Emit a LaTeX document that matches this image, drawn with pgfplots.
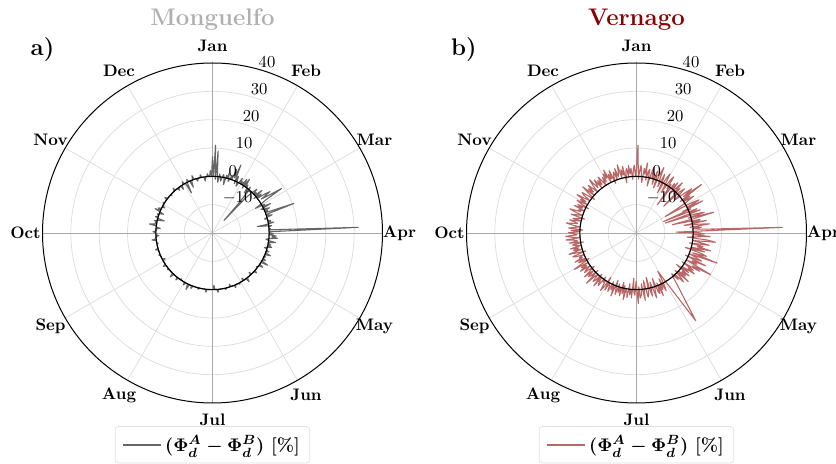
\documentclass[border=0pt]{standalone}
\usepackage{pgfplots}
\usepackage{pgfplotstable}
\pgfplotsset{compat=1.18}
\definecolor{mgray}{HTML}{666666}
\definecolor{vred}{HTML}{B96666}
\definecolor{titlegray}{HTML}{B0B0B0}
\definecolor{titlered}{HTML}{8B0000}
\definecolor{gridc}{HTML}{DDDDDD}
\definecolor{axc}{HTML}{A8A8A8}

% Monguelfo: day-of-year, difference [%]
\pgfplotstableread[row sep=\\]{
d v\\
1 7\\2 0\\3 11\\4 -1\\5 9\\6 0\\7 -2\\8 1\\9 0\\10 -1.5\\
11 0\\12 1\\13 0\\14 -2.5\\15 1\\16 0\\17 2\\18 -1\\19 0\\20 1.5\\
21 0\\22 4\\23 1\\24 6\\25 -1\\26 2\\27 0\\28 -1.5\\29 0\\30 2\\
31 0\\32 1\\33 0\\34 2.5\\35 -1\\36 3\\37 0\\38 1\\39 0\\40 -2\\
41 1\\42 0\\43 -6\\44 -14\\45 -3\\46 0\\47 2\\48 0\\49 1\\50 0\\
51 3\\52 -1\\53 2\\54 0\\55 3\\56 5\\57 1\\58 4\\59 9\\60 2\\
61 0\\62 -2.5\\63 1\\64 0\\65 3\\66 -1\\67 0\\68 2\\69 0\\70 1\\
71 0\\72 10.5\\73 0\\74 0\\75 2\\76 0\\77 -1\\78 0\\79 0\\80 1\\
81 0\\82 2\\83 0\\84 -4\\85 1\\86 0\\87 0\\88 0.5\\89 0\\90 31.5\\
91 0\\92 0\\93 1.5\\94 0\\95 2.5\\96 1\\97 3\\98 0\\99 -1\\100 0\\
101 2.5\\102 0\\103 0\\104 1\\105 0\\106 1.5\\107 0\\108 -1\\109 0\\110 0\\
111 1\\112 0\\113 0\\114 2\\115 0\\116 0\\117 0.5\\118 0\\119 0\\120 1\\
121 0\\122 0\\123 2.5\\124 0\\126 0\\127 1.5\\128 0\\129 0\\130 -0.5\\131 0\\
134 0\\135 1\\136 0\\139 0\\140 -1\\141 0\\145 0\\146 1.5\\147 0\\149 0\\150 -1\\151 0\\
154 0\\155 0.5\\156 0\\159 0\\160 1\\161 0\\164 0\\165 -1\\166 0\\169 0\\170 0.5\\171 0\\
175 0\\177 0\\178 1\\179 0\\181 0\\182 -1.5\\183 0\\186 0\\189 0\\190 1\\191 0\\194 0\\
197 0\\198 0.5\\199 0\\202 0\\204 0\\205 1\\206 0\\208 0\\209 2\\210 0\\212 0\\213 1\\214 0\\
217 0\\218 -0.5\\219 0\\221 0\\222 1\\223 0\\227 0\\228 1.5\\229 0\\232 0\\234 0\\235 0.5\\236 0\\
239 0\\240 1\\241 0\\245 0\\246 -1\\247 0\\251 0\\252 0.5\\253 0\\257 0\\258 1\\259 0\\
263 0\\264 -0.5\\265 0\\267 0\\268 1.5\\269 0\\271 0\\272 -1\\273 0\\275 0\\276 1\\277 0\\
279 0\\280 -1.5\\281 0\\282 0\\283 2.5\\284 0\\285 0.5\\286 0\\287 1\\288 0\\289 -2.5\\290 0\\
291 1\\292 0\\293 0\\294 0.6\\295 0\\296 -1.5\\297 0\\298 2\\299 0\\300 1\\301 0\\302 0\\
303 -1\\304 0\\306 0\\307 0.5\\308 0\\311 0\\312 1\\313 0\\317 0\\318 -0.5\\319 0\\
323 0\\324 1\\325 0\\327 0\\328 -1\\329 0\\331 0\\332 -1.5\\333 0\\334 0\\335 1\\336 0\\
337 0\\338 -4\\339 0\\340 1\\341 0\\342 0\\343 -2.5\\344 0\\345 0\\346 1.5\\347 0\\
349 0\\350 -1\\351 0\\353 0\\354 1\\355 0\\357 0\\358 -1.5\\359 0\\360 0\\361 1\\362 0\\
363 0\\364 2\\365 0\\366 7\\
}\tabA

% Vernago: day-of-year, difference [%]
\pgfplotstableread[row sep=\\]{
d v\\
1 3\\2 11\\3 -1\\4 2\\5 4\\6 0\\7 -2\\8 3\\9 1\\10 5\\
11 -1\\12 2\\13 3\\14 -3\\15 1\\16 4\\17 0\\18 2\\19 -2\\20 3\\
21 1\\22 -3\\23 2\\24 5\\25 0\\26 -2\\27 3\\28 1\\29 -4\\30 2\\
31 4\\32 0\\33 -3\\34 2\\35 3.8\\36 -1\\37 1\\38 -7.5\\39 2\\40 0\\
41 3\\42 -2\\43 1\\44 4\\45 -1\\46 2\\47 -6.5\\48 1\\49 3\\50 0\\
51 -2\\52 2\\53 5\\54 1\\55 8.6\\56 -1\\57 3\\58 0\\59 4\\60 1\\
61 -3\\62 -8.3\\63 2\\64 5\\65 0\\66 6\\67 -2\\68 1\\69 -9.6\\70 3\\
71 0\\72 4\\73 -9.2\\74 2\\75 5\\76 -1\\77 8.2\\78 1\\79 -7\\80 3\\
81 0\\82 5\\83 -3\\84 2\\85 6\\86 -1\\87 3\\88 0\\89 4\\90 31.5\\
91 -6\\92 2\\93 4\\94 0\\95 6\\96 1\\97 -2\\98 5\\99 8.1\\100 0\\
101 3\\102 6\\103 -1\\104 4\\105 2\\106 7\\107 0\\108 5\\109 -2\\110 4\\
111 6\\112 1\\113 10.4\\114 0\\115 3\\116 5\\117 -1\\118 7\\119 2\\120 4\\
121 0\\122 10\\123 3\\124 6\\125 -1\\126 4\\127 2\\128 5\\129 0\\130 3\\
131 -2\\132 4\\133 1\\134 3\\135 0\\136 5\\137 -1\\138 2\\139 4\\140 0\\
141 2\\142 -1\\143 0\\149 17.4\\154 -4.5\\155 1\\156 3\\157 -2\\158 2\\159 0\\160 4\\
161 -1\\162 3\\163 2\\164 -3\\165 1\\166 4\\167 0\\168 -2\\169 3\\170 1\\
171 -4\\172 2\\173 3\\174 0\\175 -3\\176 4\\177 1\\178 -2\\179 2\\180 3\\
181 -1\\182 4.9\\183 0\\184 -3\\185 2\\186 1\\187 -4\\188 3\\189 0\\190 2\\
191 -2\\192 3\\193 1\\194 0\\195 4\\196 -1\\197 2\\198 -2\\199 3\\200 0\\
201 2\\202 -1\\203 3\\204 1\\205 -2\\206 4\\207 0\\208 2\\209 -1\\210 3\\
211 1\\212 0\\213 3\\214 -2\\215 2\\216 4\\217 0\\218 1\\219 -1\\220 3\\
221 2\\222 0\\223 4\\224 -1\\225 2\\226 3\\227 0\\228 1\\229 5\\230 -1\\
231 2\\232 3\\233 0\\234 4\\235 1\\236 -1\\237 3\\238 2\\239 0\\240 4\\
241 1\\242 3\\243 0\\244 5.4\\245 2\\246 -1\\247 3\\248 0\\249 4\\250 1\\
251 2\\252 0\\253 3\\254 4\\255 -1\\256 2\\257 5\\258 0\\259 3\\260 1\\
261 4\\262 0\\263 2\\264 3\\265 -1\\266 4\\267 1\\268 2\\269 5\\270 0\\
271 3\\272 5\\273 1\\274 2\\275 4\\276 0\\277 3\\278 -1\\279 4\\280 2\\
281 0\\282 3\\283 5\\284 1\\285 2\\286 4\\287 0\\288 3\\289 1\\290 -1\\
291 4\\292 2\\293 0\\294 3\\295 5\\296 1\\297 2\\298 0\\299 4\\300 1\\
301 3\\302 -1\\303 2\\304 4\\305 0\\306 3\\307 1\\308 5\\309 2\\310 0\\
311 3\\312 4\\313 1\\314 -1\\315 2\\316 5\\317 0\\318 3\\319 1\\320 4\\
321 2\\322 0\\323 3\\324 5\\325 1\\326 2\\327 4\\328 0\\329 3\\330 1\\
331 4\\332 2\\333 0\\334 3\\335 1\\336 4\\337 2\\338 5\\339 0\\340 3\\
341 1\\342 4\\343 -1\\344 2\\345 3\\346 0\\347 4\\348 1\\349 2\\350 5\\
351 0\\352 3\\353 1\\354 4\\355 -2\\356 2\\357 3\\358 0\\359 4\\360 1\\
361 3\\362 -1\\363 2\\364 4\\365 0\\366 3\\
}\tabB

\newcommand{\polargrid}{%
  \pgfplotsinvokeforeach{10,20,30,40,50}{\draw[gridc, line width=0.45pt] (axis cs:0,0) circle[radius=##1];}%
  \pgfplotsinvokeforeach{30,60,120,150,210,240,300,330}{\draw[gridc, line width=0.45pt] (axis cs:0,0) -- (axis cs:{60*cos(##1)},{60*sin(##1)});}%
  \draw[axc, line width=0.45pt] (axis cs:-60,0) -- (axis cs:60,0);
  \draw[axc, line width=0.45pt] (axis cs:0,-60) -- (axis cs:0,60);
}
\newcommand{\polarlabels}{%
  \draw[black, line width=0.7pt] (axis cs:0,0) circle[radius=20];
  \draw[black, line width=0.6pt] (axis cs:0,0) circle[radius=60];
  \node[font=\bfseries] at (axis cs:0,66) {Jan};
  \node[font=\bfseries] at (axis cs:33,57.16) {Feb};
  \node[font=\bfseries] at (axis cs:57.16,33) {Mar};
  \node[font=\bfseries] at (axis cs:66,0) {Apr};
  \node[font=\bfseries] at (axis cs:57.16,-33) {May};
  \node[font=\bfseries] at (axis cs:33,-57.16) {Jun};
  \node[font=\bfseries] at (axis cs:0,-66) {Jul};
  \node[font=\bfseries] at (axis cs:-33,-57.16) {Aug};
  \node[font=\bfseries] at (axis cs:-57.16,-33) {Sep};
  \node[font=\bfseries] at (axis cs:-66,0) {Oct};
  \node[font=\bfseries] at (axis cs:-57.16,33) {Nov};
  \node[font=\bfseries] at (axis cs:-33,57.16) {Dec};
  \node[anchor=west, inner sep=0pt] at (axis cs:16.2,60.4) {$40$};
  \node[anchor=west, inner sep=0pt] at (axis cs:13.4,50.8) {$30$};
  \node[anchor=west, inner sep=0pt] at (axis cs:10.6,41.3) {$20$};
  \node[anchor=west, inner sep=0pt] at (axis cs:8.1,31.8) {$10$};
  \node[anchor=west, inner sep=0pt] at (axis cs:5.6,21.9) {$0$};
  \node[anchor=west, inner sep=0pt] at (axis cs:3.5,12.4) {$-10$};
}

\pgfplotsset{
  polarish/.style={
    x=1.7pt, y=1.7pt, xmin=-60, xmax=60, ymin=-60, ymax=60,
    hide axis, clip=false, anchor=center,
    legend style={at={(0.5,-0.068)}, anchor=north, draw=black!12, rounded corners=2pt,
      fill=white, font=\fontsize{11}{13}\selectfont\bfseries\boldmath,
      inner xsep=4pt, inner ysep=3.5pt},
    legend cell align=left,
    legend image code/.code={\draw[##1, line width=1.2pt] (0cm,0cm) -- (0.8cm,0cm);},
  },
}

\begin{document}
\begin{tikzpicture}
\useasboundingbox (0,0) rectangle (501.6pt,278.4pt);
\begin{axis}[polarish, at={(127.5pt,138.6pt)}]
  \polargrid
  \addplot[mgray, line width=0.65pt, line join=round] table[
     x expr={(\thisrow{v}+20)*cos(90-(\thisrow{d}-1)*0.98630137)},
     y expr={(\thisrow{v}+20)*sin(90-(\thisrow{d}-1)*0.98630137)}] {\tabA};
  \addlegendentry{$(\Phi_d^A-\Phi_d^B)$ [\%]}
  \polarlabels
  \node[font=\Large\bfseries, text=titlegray] at (axis cs:0,75.2) {Monguelfo};
  \node[font=\Large\bfseries] at (axis cs:-60,64.6) {a)};
\end{axis}
\begin{axis}[polarish, at={(381.9pt,138.6pt)}]
  \polargrid
  \addplot[vred, line width=0.65pt, line join=round] table[
     x expr={(\thisrow{v}+20)*cos(90-(\thisrow{d}-1)*0.98630137)},
     y expr={(\thisrow{v}+20)*sin(90-(\thisrow{d}-1)*0.98630137)}] {\tabB};
  \addlegendentry{$(\Phi_d^A-\Phi_d^B)$ [\%]}
  \polarlabels
  \node[font=\Large\bfseries, text=titlered] at (axis cs:0,75.2) {Vernago};
  \node[font=\Large\bfseries] at (axis cs:-60.9,64.6) {b)};
\end{axis}
\end{tikzpicture}
\end{document}
